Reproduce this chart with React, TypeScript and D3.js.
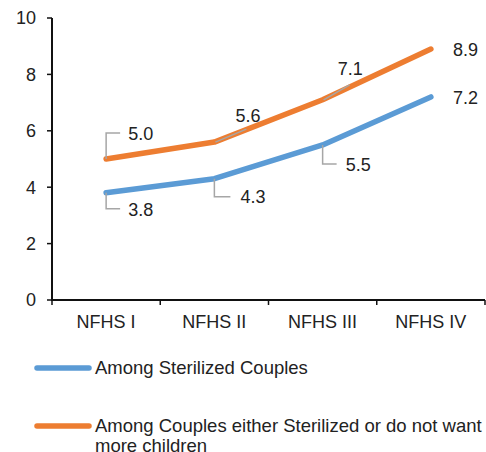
import React from "react";
import * as d3 from "d3";

const surveys = ["NFHS I", "NFHS II", "NFHS III", "NFHS IV"];
const sterilized = [3.8, 4.3, 5.5, 7.2];
const sterilizedOrNoMore = [5.0, 5.6, 7.1, 8.9];
const yTicks = [0, 2, 4, 6, 8, 10];
const legendLabels = ["Among Sterilized Couples", "Among Couples either Sterilized or do not want more children"];

const BLUE = "#5b9bd5";
const ORANGE = "#ed7d31";
const LEADER = "#a6a6a6";
const FONT = "'Liberation Sans', Arial, sans-serif";

// label placement relative to each point: text offset and leader kind
type Place = { dx: number; dy: number; leader: "up" | "down" | "diag" | "none"; lx?: number; ly?: number };
const orangePlace: Place[] = [
    { dx: 22, dy: -25, leader: "up", lx: 14, ly: -26 },
    { dx: 21, dy: -26, leader: "diag", lx: 32, ly: -13 },
    { dx: 15, dy: -31, leader: "diag", lx: 27, ly: -15 },
    { dx: 22, dy: 1, leader: "none" },
];
const bluePlace: Place[] = [
    { dx: 22, dy: 17, leader: "down", lx: 14, ly: 16 },
    { dx: 26, dy: 18, leader: "down", lx: 16, ly: 18 },
    { dx: 23, dy: 20, leader: "down", lx: 14, ly: 19 },
    { dx: 22, dy: 1, leader: "none" },
];

export default function App() {
    const width = 486;
    const height = 452;
    const margin = { left: 52, right: 1, top: 18, bottom: 152 };

    const x = d3.scaleBand().domain(surveys).range([margin.left, width - margin.right]);
    const y = d3.scaleLinear().domain([0, 10]).range([height - margin.bottom, margin.top]);
    const cx = (s: string) => (x(s) || 0) + x.bandwidth() / 2;

    const line = d3.line<number>()
        .x((d, i) => cx(surveys[i]))
        .y(d => y(d));

    const series = [
        { values: sterilized, color: BLUE, place: bluePlace },
        { values: sterilizedOrNoMore, color: ORANGE, place: orangePlace },
    ];

    const y0 = y(0);
    const ticksX = [...surveys.map(s => x(s) || 0), width - margin.right];
    const words = legendLabels[1].split(" ");

    return (
        <svg width={width} height={height} style={{ position: "absolute", left: 0, top: 0, background: "#fff" }} fontFamily={FONT}>
            {/* y axis */}
            <line x1={margin.left} x2={margin.left} y1={y(10)} y2={y0} stroke="#111" strokeWidth={2} />
            {yTicks.map(t => (
                <g key={t}>
                    <line x1={margin.left - 5} x2={margin.left} y1={y(t)} y2={y(t)} stroke="#111" strokeWidth={1.5} />
                    <text x={36} y={y(t)} dy="0.35em" textAnchor="end" fontSize={18} fill="#222">{t}</text>
                </g>
            ))}
            {/* x axis */}
            <line x1={margin.left - 1} x2={width - margin.right} y1={y0} y2={y0} stroke="#111" strokeWidth={2} />
            {ticksX.map((tx, i) => (
                <line key={i} x1={tx} x2={tx} y1={y0} y2={y0 + 5} stroke="#111" strokeWidth={1.5} />
            ))}
            {surveys.map(s => (
                <text key={s} x={cx(s)} y={y0 + 28} textAnchor="middle" fontSize={18} fill="#222">{s}</text>
            ))}

            {/* series lines */}
            {series.map((sr, k) => (
                <path key={k} d={line(sr.values) || ""} fill="none" stroke={sr.color} strokeWidth={5.5}
                    strokeLinecap="round" strokeLinejoin="round" />
            ))}

            {/* data labels with leader lines */}
            {series.map((sr, k) => sr.values.map((v, i) => {
                const px = cx(surveys[i]);
                const py = y(v);
                const p = sr.place[i];
                let leader = null;
                if (p.leader === "up" || p.leader === "down") {
                    leader = <path d={`M${px},${py}V${py + (p.ly || 0)}H${px + (p.lx || 0)}`} fill="none" stroke={LEADER} strokeWidth={1.5} />;
                } else if (p.leader === "diag") {
                    leader = <path d={`M${px + 1},${py}L${px + (p.lx || 0)},${py + (p.ly || 0)}`} fill="none" stroke={LEADER} strokeWidth={1.5} />;
                }
                return (
                    <g key={`${k}-${i}`}>
                        {leader}
                        <text x={px + p.dx} y={py + p.dy} dy="0.35em" fontSize={18} fill="#222">{v.toFixed(1)}</text>
                    </g>
                );
            }))}

            {/* legend */}
            <line x1={37} x2={89} y1={368} y2={368} stroke={BLUE} strokeWidth={5.5} strokeLinecap="round" />
            <text x={95} y={368} dy="0.35em" fontSize={18.5} fill="#222">{legendLabels[0]}</text>
            <line x1={37} x2={89} y1={426} y2={426} stroke={ORANGE} strokeWidth={5.5} strokeLinecap="round" />
            <text x={95} y={426} dy="0.35em" fontSize={18.5} fill="#222">
                <tspan x={95}>{words.slice(0, 8).join(" ")}</tspan>
                <tspan x={95} dy={20}>{words.slice(8).join(" ")}</tspan>
            </text>
        </svg>
    );
}
